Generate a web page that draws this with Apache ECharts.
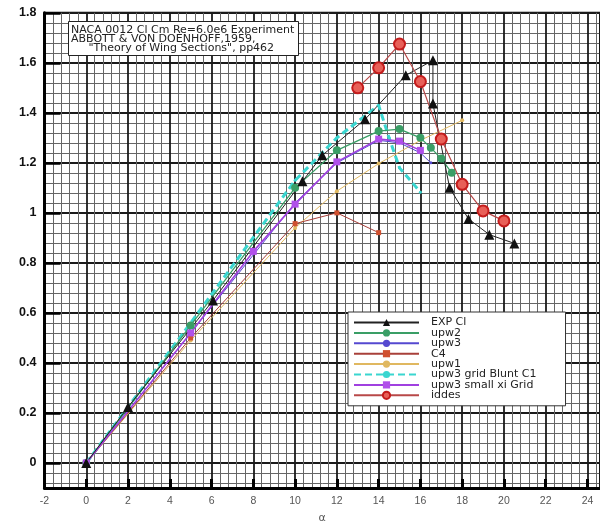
<!DOCTYPE html>
<html>
<head>
<meta charset="utf-8">
<script src="https://cdn.jsdelivr.net/npm/echarts@6/dist/echarts.min.js"></script>
<style>html,body{margin:0;padding:0;background:#fff;}#c{width:600px;height:529px;}</style>
</head>
<body>
<div id="c"></div>
<script>
// ---- data (alpha, Cl) ----
var seriesNames = ['EXP Cl','upw2','upw3','C4','upw1','upw3 grid Blunt C1','upw3 small xi Grid','iddes'];
var expCl = [[0,0],[2,0.224],[6.07,0.65],[10.35,1.126],[11.3,1.23],[13.35,1.374],[15.3,1.55],[16.6,1.61],[16.6,1.437],[17.4,1.10],[18.3,0.976],[19.3,0.913],[20.5,0.878]];
var upw2 = [[0,0],[5,0.55],[10,1.10],[12,1.25],[14,1.327],[15,1.335],[16,1.30],[16.5,1.26],[17,1.217],[17.5,1.16]];
var upw3 = [[0,0],[5,0.52],[10,1.04],[12,1.20],[14,1.29],[15,1.28],[16,1.24],[16.5,1.20]];
var c4 = [[0,0],[5,0.50],[10,0.957],[12,1.0],[14,0.921]];
var upw1 = [[0,0],[5,0.49],[10,0.94],[12,1.087],[14,1.197],[16,1.29],[18,1.37]];
var upw3Blunt = [[0,0],[5,0.56],[10,1.13],[12,1.30],[14,1.43],[14.5,1.30],[15,1.18],[16,1.083]];
var upw3SmallXi = [[0,0],[5,0.52],[8,0.846],[10,1.035],[12,1.204],[14,1.295],[15,1.287],[16,1.25]];
var iddes = [[13,1.50],[14,1.58],[15,1.675],[16,1.525],[17,1.295],[18,1.114],[19,1.008],[20,0.968]];
var titleLines = ['NACA 0012 Cl Cm Re=6.0e6 Experiment','ABBOTT & VON DOENHOFF,1959,','     "Theory of Wing Sections", pp462'];
var xName = 'α';

var chart = echarts.init(document.getElementById('c'), null, {renderer:'canvas'});
var font = 'DejaVu Sans';
function mk(name, data, color, extra){
  var s = {name:name, type:'line', data:data, color:color, animation:false,
    lineStyle:{color:color, width:1}, itemStyle:{color:color}, symbol:'circle', symbolSize:4};
  for (var k in extra) s[k] = extra[k];
  return s;
}
var option = {
  backgroundColor:'#fff',
  animation:false,
  title:{
    text: titleLines.join('\n'), left:68, top:22,
    padding:[3,4,2,3], borderColor:'#222', borderWidth:1, backgroundColor:'#fff',
    textStyle:{fontFamily:font, fontSize:11, fontWeight:'normal', color:'#222', lineHeight:9.3}
  },
  grid:{left:44.5, right:0, top:12.8, bottom:33.6, show:true, borderColor:'#000', borderWidth:2},
  legend:{
    orient:'vertical', left:348, top:312, selectedMode:false,
    itemWidth:65, itemHeight:9, itemGap:-0.6,
    padding:[5,29,5,5], backgroundColor:'#fff', borderColor:'#333', borderWidth:1,
    textStyle:{fontFamily:font, fontSize:11, color:'#222', lineHeight:10, padding:[0,0,0,7]},
    data: seriesNames
  },
  xAxis:{
    type:'value', min:-2, max:24.6, interval:2,
    name:xName, nameLocation:'middle', nameGap:25,
    nameTextStyle:{fontFamily:font, fontSize:11, color:'#555'},
    axisLine:{show:true, onZero:false, lineStyle:{color:'#000', width:3}},
    axisTick:{show:true, inside:true, length:9, lineStyle:{color:'#000', width:3}},
    axisLabel:{fontFamily:'Liberation Sans', fontSize:10.5, color:'#555', margin:8, showMaxLabel:false},
    splitLine:{show:true, lineStyle:{color:'#1a1a1a', width:1.8}},
    minorTick:{show:false, splitNumber:5},
    minorSplitLine:{show:true, lineStyle:{color:'#666', width:1}}
  },
  yAxis:{
    type:'value', min:-0.1, max:1.8, splitNumber:10,
    axisLine:{show:true, onZero:false, lineStyle:{color:'#000', width:3}},
    axisTick:{show:true, inside:true, length:16, lineStyle:{color:'#000', width:2.5}},
    axisLabel:{fontFamily:'Liberation Sans', fontSize:12.5, fontWeight:'bold', color:'#111', margin:8, showMinLabel:false,
      formatter:function(v){return String(Math.round(v*10)/10);}},
    splitLine:{show:true, lineStyle:{color:'#1a1a1a', width:1.8}},
    minorTick:{show:false, splitNumber:5},
    minorSplitLine:{show:true, lineStyle:{color:'#666', width:1}}
  },
  series:[
    mk(seriesNames[5], upw3Blunt, '#3ad6d0', {lineStyle:{color:'#3ad6d0', width:3, type:[7,4]}, symbol:'circle', symbolSize:3}),
    mk(seriesNames[4], upw1, '#e0b860', {symbolSize:4}),
    mk(seriesNames[3], c4, '#a8403a', {symbol:'rect', symbolSize:5, itemStyle:{color:'#d0502f'}}),
    mk(seriesNames[2], upw3, '#5548d0', {symbolSize:3}),
    mk(seriesNames[1], upw2, '#3a9e66', {lineStyle:{color:'#3a9e66', width:1.3}, symbolSize:8}),
    mk(seriesNames[6], upw3SmallXi, '#a040e0', {lineStyle:{color:'#a040e0', width:1.6}, symbol:'rect', symbolSize:7, itemStyle:{color:'#b050ea'}}),
    mk(seriesNames[0], expCl, '#111', {symbol:'triangle', symbolSize:10, lineStyle:{color:'#222', width:1}}),
    mk(seriesNames[7], iddes, '#b84040', {lineStyle:{color:'#b84848', width:1.2}, symbolSize:11,
      itemStyle:{color:'#e86058', borderColor:'#c41c1c', borderWidth:2}})
  ]
};
chart.setOption(option);
</script>
</body>
</html>
